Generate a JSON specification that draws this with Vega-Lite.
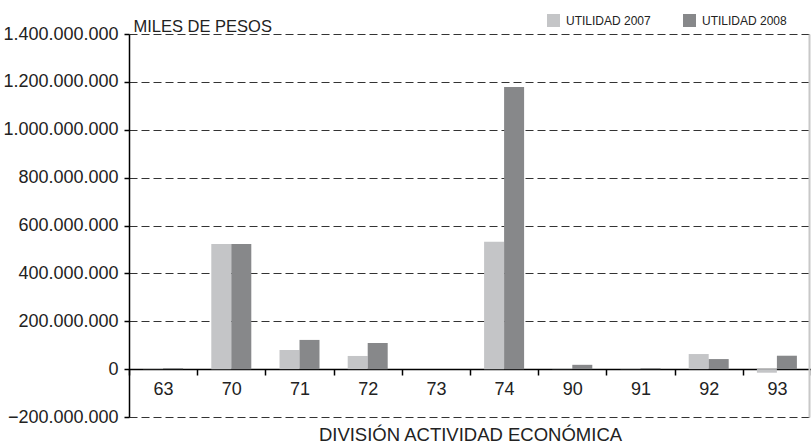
{
  "$schema": "https://vega.github.io/schema/vega-lite/v6.json",
  "autosize": "none",
  "width": 682,
  "height": 383,
  "padding": {"left": 129, "top": 34, "right": 0, "bottom": 28},
  "background": "white",
  "config": {
    "locale": {"number": {"decimal": ",", "thousands": ".", "grouping": [3], "currency": ["$", ""]}},
    "view": {"stroke": null},
    "font": "Liberation Sans"
  },
  "data": {
    "values": [
      {"division": "63", "serie": "UTILIDAD 2007", "valor": 2000000},
      {"division": "63", "serie": "UTILIDAD 2008", "valor": 4000000},
      {"division": "70", "serie": "UTILIDAD 2007", "valor": 523000000},
      {"division": "70", "serie": "UTILIDAD 2008", "valor": 523000000},
      {"division": "71", "serie": "UTILIDAD 2007", "valor": 80000000},
      {"division": "71", "serie": "UTILIDAD 2008", "valor": 122000000},
      {"division": "72", "serie": "UTILIDAD 2007", "valor": 55000000},
      {"division": "72", "serie": "UTILIDAD 2008", "valor": 109000000},
      {"division": "73", "serie": "UTILIDAD 2007", "valor": 0},
      {"division": "73", "serie": "UTILIDAD 2008", "valor": 0},
      {"division": "74", "serie": "UTILIDAD 2007", "valor": 532000000},
      {"division": "74", "serie": "UTILIDAD 2008", "valor": 1179000000},
      {"division": "90", "serie": "UTILIDAD 2007", "valor": 1500000},
      {"division": "90", "serie": "UTILIDAD 2008", "valor": 18000000},
      {"division": "91", "serie": "UTILIDAD 2007", "valor": 2000000},
      {"division": "91", "serie": "UTILIDAD 2008", "valor": 4000000},
      {"division": "92", "serie": "UTILIDAD 2007", "valor": 63000000},
      {"division": "92", "serie": "UTILIDAD 2008", "valor": 42000000},
      {"division": "93", "serie": "UTILIDAD 2007", "valor": -15000000},
      {"division": "93", "serie": "UTILIDAD 2008", "valor": 56000000}
    ]
  },
  "encoding": {
    "x": {
      "field": "division",
      "type": "nominal",
      "scale": {"paddingInner": 0, "paddingOuter": 0},
      "axis": {
        "title": "DIVISIÓN ACTIVIDAD ECONÓMICA",
        "titleFontSize": 18.5,
        "titleFontWeight": "normal",
        "titleColor": "#222",
        "titleBaseline": "alphabetic",
        "titleY": 71,
        "labelAngle": 0,
        "labelFontSize": 18,
        "labelColor": "#222",
        "labelPadding": 5,
        "tickBand": "extent",
        "tickSize": 6,
        "tickColor": "#000",
        "tickWidth": 1.5,
        "domainColor": "#000",
        "domainWidth": 1.5,
        "offset": -48,
        "grid": false
      }
    },
    "xOffset": {"field": "serie", "type": "nominal", "scale": {"paddingOuter": 0.705, "paddingInner": 0}},
    "color": {
      "field": "serie",
      "type": "nominal",
      "scale": {"range": ["#c4c5c7", "#87888a"]},
      "legend": {
        "title": null,
        "orient": "none",
        "direction": "horizontal",
        "legendX": 418,
        "legendY": -20,
        "symbolType": "square",
        "symbolSize": 169,
        "symbolStrokeWidth": 0,
        "symbolOpacity": 1,
        "labelFontSize": 12,
        "labelColor": "#222",
        "labelOffset": 6,
        "columnPadding": 32
      }
    }
  },
  "layer": [
    {
      "mark": {"type": "bar"},
      "encoding": {
        "y": {
          "field": "valor",
          "type": "quantitative",
          "scale": {"domain": [-200000000, 1400000000], "nice": false},
          "axis": {
            "orient": "left",
            "values": [-200000000, 0, 200000000, 400000000, 600000000, 800000000, 1000000000, 1200000000, 1400000000],
            "format": ",d",
            "title": "MILES DE PESOS",
            "titleAngle": 0,
            "titleAlign": "left",
            "titleBaseline": "alphabetic",
            "titleX": 4,
            "titleY": -3,
            "titleFontSize": 16.5,
            "titleFontWeight": "normal",
            "titleColor": "#222",
            "labelFontSize": 18,
            "labelColor": "#222",
            "labelPadding": 6,
            "tickSize": 5,
            "tickColor": "#000",
            "tickWidth": 1.5,
            "domainColor": "#000",
            "domainWidth": 1.5,
            "grid": true,
            "gridColor": "#333",
            "gridDash": [8, 4],
            "gridWidth": 1.2
          }
        }
      }
    },
    {
      "mark": {"type": "bar", "opacity": 0},
      "encoding": {
        "y": {
          "field": "valor",
          "type": "quantitative",
          "axis": {
            "orient": "right",
            "title": null,
            "labels": false,
            "ticks": false,
            "grid": false,
            "domainColor": "#c8c8c8",
            "domainWidth": 2,
            "offset": -2
          }
        }
      }
    }
  ],
  "resolve": {"axis": {"y": "independent"}, "scale": {"y": "shared"}}
}
